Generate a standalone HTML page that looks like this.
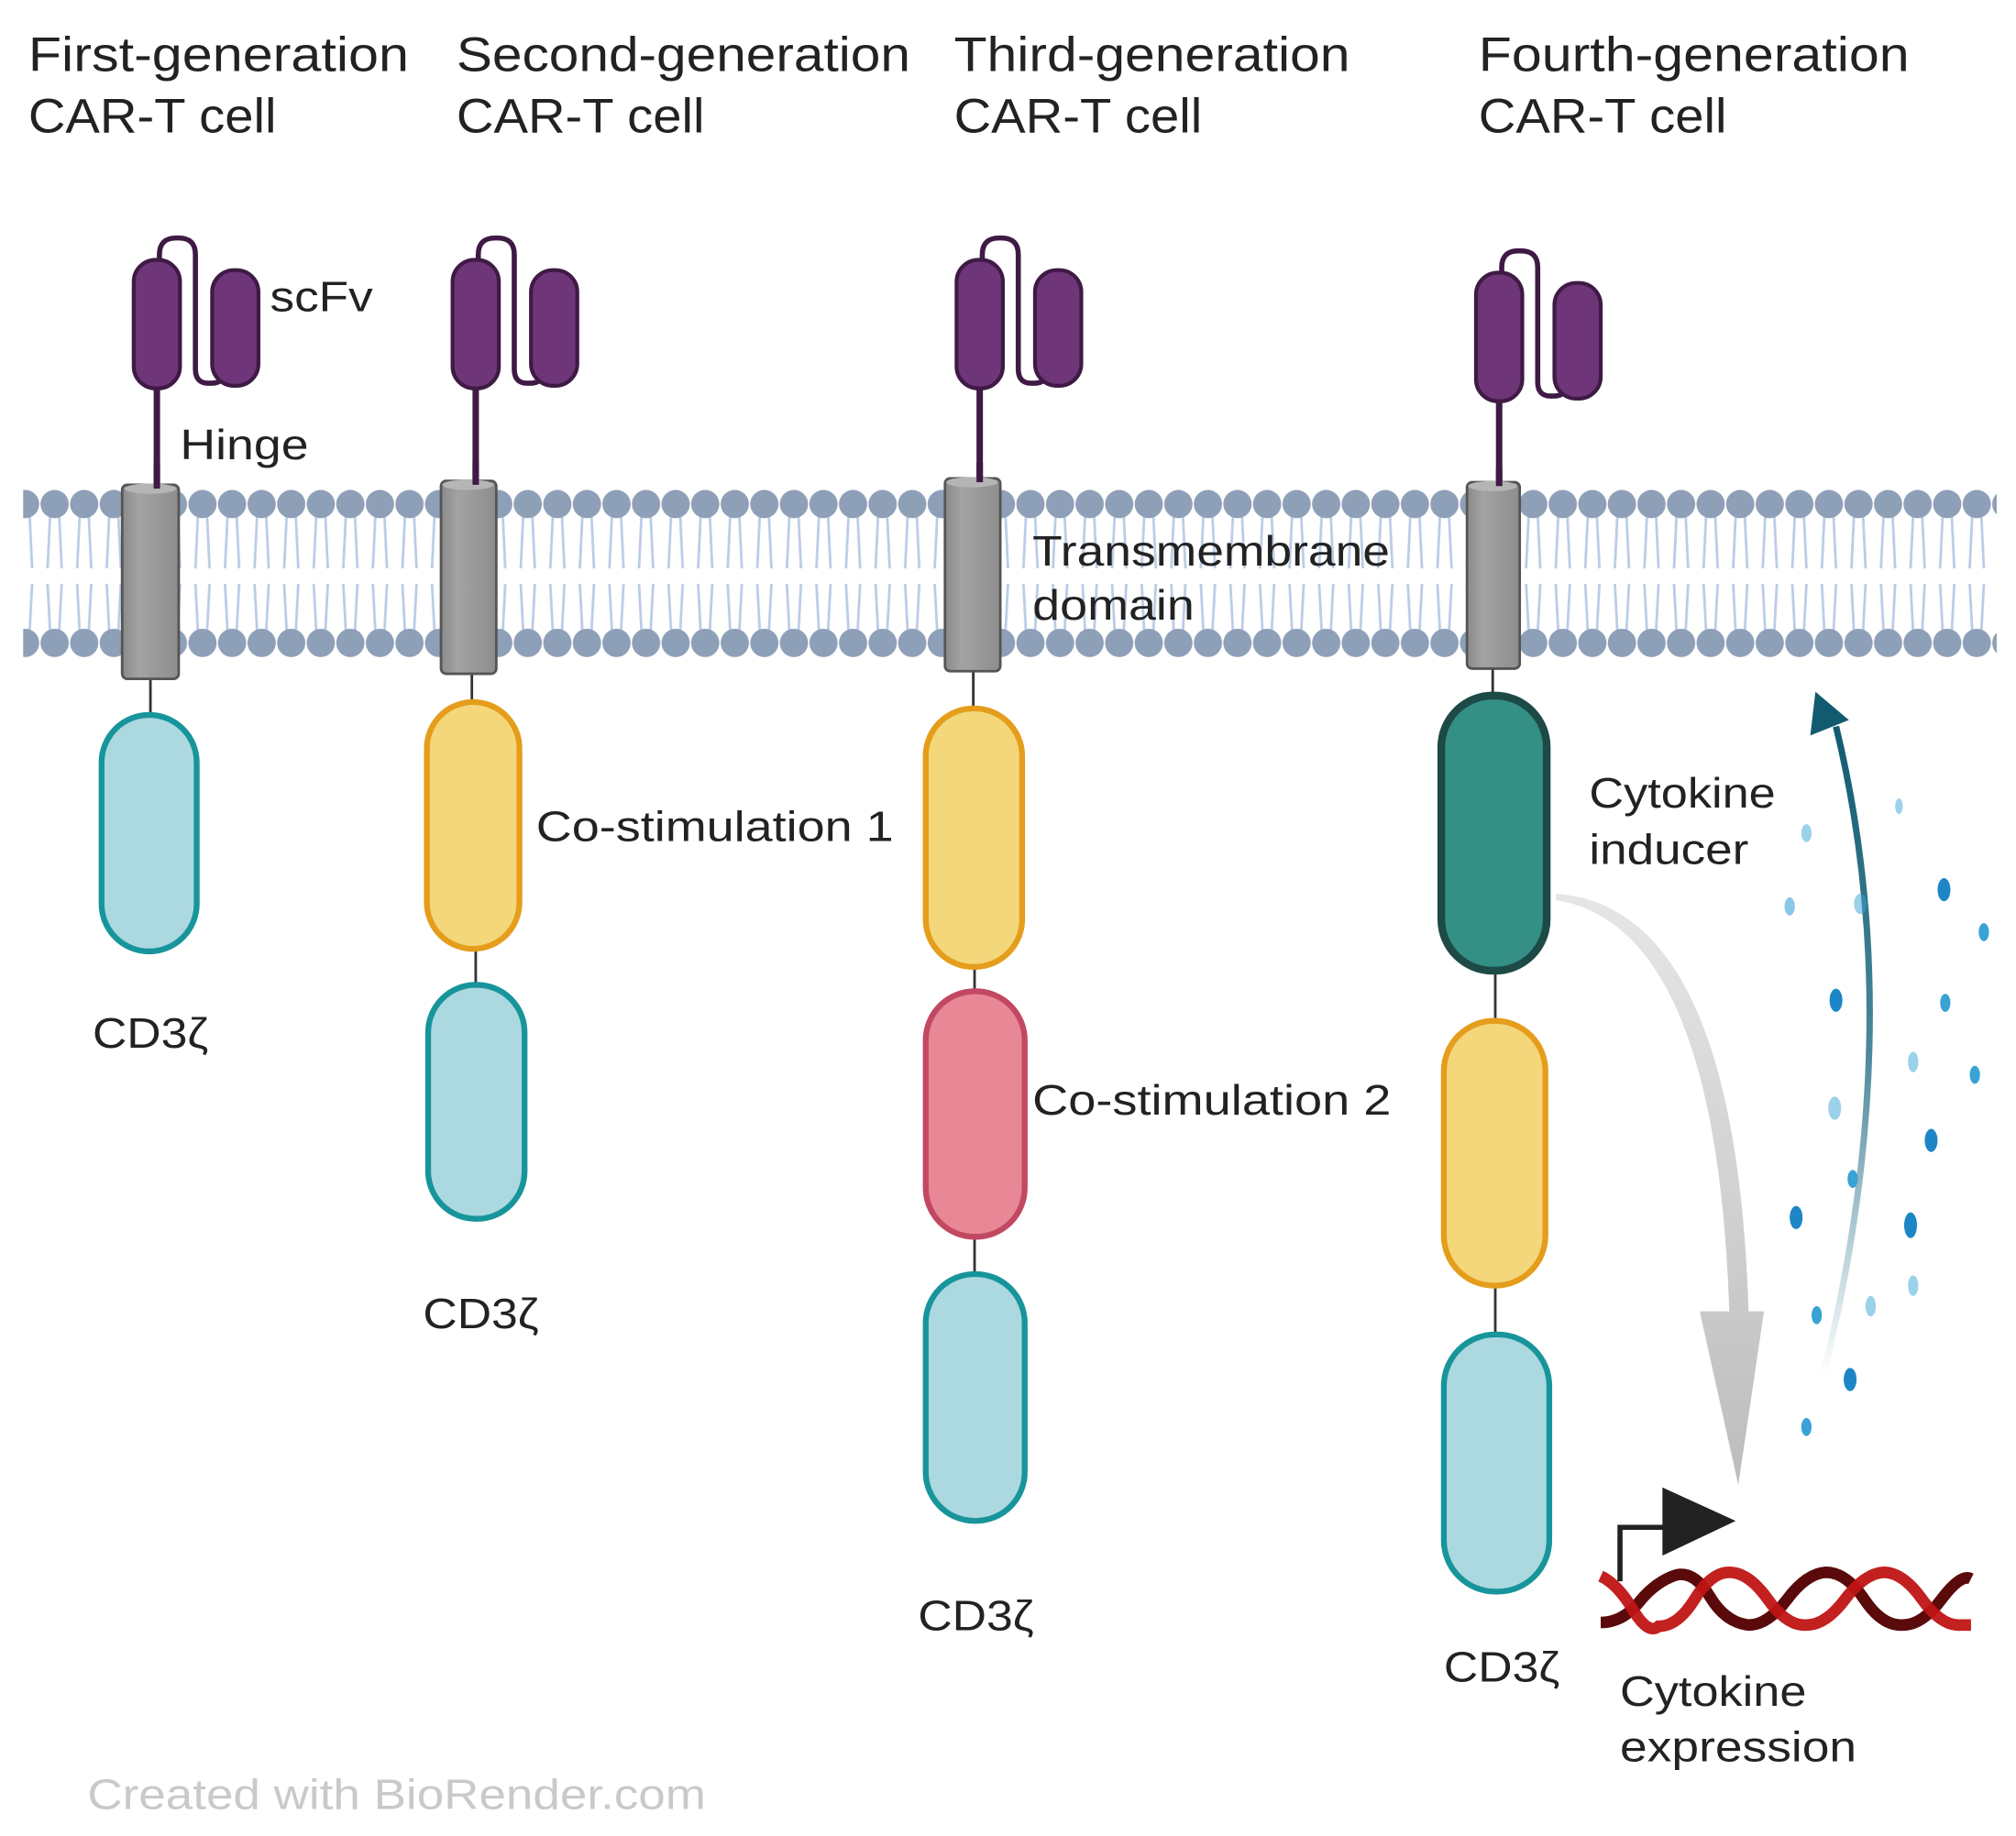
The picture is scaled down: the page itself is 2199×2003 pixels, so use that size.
<!DOCTYPE html>
<html><head><meta charset="utf-8"><style>
html,body{margin:0;padding:0;background:#fff;}
svg{display:block;}
text{font-family:"Liberation Sans",sans-serif;fill:#222;}
</style></head><body>
<svg width="2199" height="2003" viewBox="0 0 1568 1428" xmlns="http://www.w3.org/2000/svg">
<defs>
<pattern id="mem" x="8" y="380" width="23" height="140" patternUnits="userSpaceOnUse">
<g stroke="#bccce6" stroke-width="2" fill="none">
<path d="M8 20 L6 62 M15 20 L17 62"/>
<path d="M6 74 L8 112 M17 74 L15 112"/>
</g>
<circle cx="11.5" cy="12" r="11" fill="#8e9fb8"/>
<circle cx="11.5" cy="120" r="11" fill="#8e9fb8"/>
</pattern>
<linearGradient id="gcyl" x1="0" x2="1" y1="0" y2="0">
<stop offset="0" stop-color="#8a8a8a"/><stop offset="0.3" stop-color="#a3a3a3"/><stop offset="1" stop-color="#8d8d8d"/>
</linearGradient>
<linearGradient id="gray" x1="0" y1="0" x2="0" y2="1">
<stop offset="0" stop-color="#e6e6e6"/><stop offset="1" stop-color="#bdbdbd"/>
</linearGradient>
<linearGradient id="teal" x1="0" y1="1" x2="0" y2="0">
<stop offset="0" stop-color="#1d6a80" stop-opacity="0"/><stop offset="0.5" stop-color="#1d6a80" stop-opacity="0.8"/><stop offset="1" stop-color="#125a70"/>
</linearGradient>
<g id="scfv">
<path d="M0 0 L0 -90" stroke="#3f1a45" stroke-width="5" fill="none"/>
<path d="M2 -175 L2 -182 Q2 -195 15 -195 L17 -195 Q30 -195 30 -182 L30 -93 Q30 -82 40 -82 L42 -82 Q52 -82 52 -90" stroke="#3f1a45" stroke-width="4" fill="none"/>
<rect x="-18" y="-178" width="36" height="100" rx="17" fill="#6e3678" stroke="#3f1a45" stroke-width="3"/>
<rect x="43" y="-170" width="36" height="90" rx="17" fill="#6e3678" stroke="#3f1a45" stroke-width="3"/>
</g>
</defs>
<rect width="1568" height="1428" fill="#fff"/>

<!-- titles -->
<g font-size="38">
<text x="22" y="55" textLength="296" lengthAdjust="spacingAndGlyphs">First-generation</text><text x="22" y="103" textLength="193" lengthAdjust="spacingAndGlyphs">CAR-T cell</text>
<text x="355" y="55" textLength="353" lengthAdjust="spacingAndGlyphs">Second-generation</text><text x="355" y="103" textLength="193" lengthAdjust="spacingAndGlyphs">CAR-T cell</text>
<text x="742" y="55" textLength="308" lengthAdjust="spacingAndGlyphs">Third-generation</text><text x="742" y="103" textLength="193" lengthAdjust="spacingAndGlyphs">CAR-T cell</text>
<text x="1150" y="55" textLength="335" lengthAdjust="spacingAndGlyphs">Fourth-generation</text><text x="1150" y="103" textLength="193" lengthAdjust="spacingAndGlyphs">CAR-T cell</text>
</g>

<!-- membrane -->
<rect x="18" y="380" width="1535" height="134" fill="url(#mem)"/>

<!-- scFv -->
<use href="#scfv" transform="translate(122,380)"/>
<use href="#scfv" transform="translate(370,380)"/>
<use href="#scfv" transform="translate(762,380)"/>
<use href="#scfv" transform="translate(1166,390)"/>

<!-- connectors -->
<g stroke="#333" stroke-width="2">
<line x1="117" y1="528" x2="117" y2="556"/>
<line x1="367" y1="522" x2="367" y2="546"/><line x1="370" y1="738" x2="370" y2="766"/>
<line x1="757" y1="520" x2="757" y2="551"/><line x1="758" y1="752" x2="758" y2="771"/><line x1="758" y1="962" x2="758" y2="991"/>
<line x1="1161" y1="518" x2="1161" y2="541"/><line x1="1163" y1="755" x2="1163" y2="794"/><line x1="1163" y1="1000" x2="1163" y2="1038"/>
</g>

<!-- transmembrane cylinders -->
<g stroke="#555" stroke-width="2">
<rect x="95" y="377" width="44" height="151" rx="4" fill="url(#gcyl)"/>
<rect x="343" y="374" width="43" height="150" rx="4" fill="url(#gcyl)"/>
<rect x="735" y="372" width="43" height="150" rx="4" fill="url(#gcyl)"/>
<rect x="1141" y="375" width="41" height="145" rx="4" fill="url(#gcyl)"/>
</g>
<g fill="#b5b5b5"><ellipse cx="117" cy="380" rx="20" ry="4"/><ellipse cx="364" cy="377" rx="20" ry="4"/><ellipse cx="756" cy="375" rx="20" ry="4"/><ellipse cx="1161" cy="378" rx="19" ry="4"/></g>
<g stroke="#3f1a45" stroke-width="5"><line x1="122" y1="360" x2="122" y2="380"/><line x1="370" y1="360" x2="370" y2="377"/><line x1="762" y1="360" x2="762" y2="375"/><line x1="1166" y1="365" x2="1166" y2="378"/></g>

<!-- domains -->
<g stroke-width="4.5">
<rect x="79" y="556" width="74" height="184" rx="37" fill="#acd8e0" stroke="#17959b"/>
<rect x="332" y="546" width="72" height="192" rx="36" fill="#f3d77a" stroke="#e59d1c"/>
<rect x="333" y="766" width="75" height="182" rx="37" fill="#acd8e0" stroke="#17959b"/>
<rect x="720" y="551" width="75" height="201" rx="37" fill="#f3d77a" stroke="#e59d1c"/>
<rect x="720" y="771" width="77" height="191" rx="38" fill="#e88795" stroke="#c24862"/>
<rect x="720" y="991" width="77" height="192" rx="38" fill="#acd8e0" stroke="#17959b"/>
<rect x="1121" y="541" width="82" height="214" rx="40" fill="#348f85" stroke="#1d4a46" stroke-width="6"/>
<rect x="1123" y="794" width="79" height="206" rx="39" fill="#f3d77a" stroke="#e59d1c"/>
<rect x="1123" y="1038" width="82" height="200" rx="40" fill="#acd8e0" stroke="#17959b"/>
</g>

<!-- labels -->
<g font-size="33">
<text x="210" y="242" textLength="80" lengthAdjust="spacingAndGlyphs">scFv</text>
<text x="140" y="357" textLength="100" lengthAdjust="spacingAndGlyphs">Hinge</text>
<text x="72" y="815" textLength="90" lengthAdjust="spacingAndGlyphs">CD3ζ</text>
<text x="417" y="654" textLength="278" lengthAdjust="spacingAndGlyphs">Co-stimulation 1</text>
<text x="329" y="1033" textLength="90" lengthAdjust="spacingAndGlyphs">CD3ζ</text>
<text x="803" y="440" textLength="278" lengthAdjust="spacingAndGlyphs">Transmembrane</text><text x="803" y="482" textLength="126" lengthAdjust="spacingAndGlyphs">domain</text>
<text x="803" y="867" textLength="279" lengthAdjust="spacingAndGlyphs">Co-stimulation 2</text>
<text x="714" y="1268" textLength="90" lengthAdjust="spacingAndGlyphs">CD3ζ</text>
<text x="1236" y="628" textLength="145" lengthAdjust="spacingAndGlyphs">Cytokine</text><text x="1236" y="672" textLength="124" lengthAdjust="spacingAndGlyphs">inducer</text>
<text x="1123" y="1308" textLength="90" lengthAdjust="spacingAndGlyphs">CD3ζ</text>
<text x="1260" y="1327" textLength="145" lengthAdjust="spacingAndGlyphs">Cytokine</text><text x="1260" y="1370" textLength="184" lengthAdjust="spacingAndGlyphs">expression</text>
</g>
<text x="68" y="1407" font-size="33" textLength="481" lengthAdjust="spacingAndGlyphs" style="fill:#c9c9c9">Created with BioRender.com</text>

<!-- gray arrow -->
<path d="M1210 700 Q1335 720 1345 1020 L1322 1020 L1352 1155 L1372 1020 L1360 1020 Q1350 705 1210 695 Z" fill="url(#gray)"/>
<!-- teal arrow -->
<path d="M1418 1070 Q1485 800 1428 565" stroke="url(#teal)" stroke-width="5" fill="none"/>
<path d="M1412 538 L1408 572 L1438 560 Z" fill="#125a70"/>

<!-- dots -->
<g fill="#3aa3d6">
<ellipse cx="1405" cy="648" rx="4" ry="7" opacity=".5"/><ellipse cx="1477" cy="627" rx="3" ry="6" opacity=".5"/>
<ellipse cx="1392" cy="705" rx="4" ry="7" opacity=".6"/><ellipse cx="1447" cy="703" rx="5" ry="8" opacity=".5"/>
<ellipse cx="1512" cy="692" rx="5" ry="9" fill="#1c86c6"/><ellipse cx="1543" cy="725" rx="4" ry="7"/>
<ellipse cx="1428" cy="778" rx="5" ry="9" fill="#1c86c6"/><ellipse cx="1513" cy="780" rx="4" ry="7"/>
<ellipse cx="1488" cy="826" rx="4" ry="8" opacity=".5"/><ellipse cx="1536" cy="836" rx="4" ry="7"/>
<ellipse cx="1427" cy="862" rx="5" ry="9" opacity=".5"/><ellipse cx="1502" cy="887" rx="5" ry="9" fill="#1c86c6"/>
<ellipse cx="1441" cy="917" rx="4" ry="7"/><ellipse cx="1397" cy="947" rx="5" ry="9" fill="#1c86c6"/>
<ellipse cx="1486" cy="953" rx="5" ry="10" fill="#1c86c6"/><ellipse cx="1455" cy="1016" rx="4" ry="8" opacity=".5"/>
<ellipse cx="1413" cy="1023" rx="4" ry="7"/><ellipse cx="1488" cy="1000" rx="4" ry="8" opacity=".5"/>
<ellipse cx="1439" cy="1073" rx="5" ry="9" fill="#1c86c6"/><ellipse cx="1405" cy="1110" rx="4" ry="7"/>
</g>

<!-- DNA -->
<path d="M1245 1262 Q1262 1262 1275 1246 T1304 1225 Q1318 1222 1330 1242 T1360 1264 Q1375 1264 1390 1244 T1420 1223 Q1436 1223 1450 1244 T1480 1264 Q1495 1264 1510 1244 T1533 1228" stroke="#5a0a0a" stroke-width="9" fill="none"/>
<path d="M1245 1226 Q1258 1232 1270 1252 T1290 1265 Q1305 1265 1318 1244 T1345 1223 Q1360 1223 1375 1244 T1405 1264 Q1420 1264 1435 1244 T1465 1223 Q1480 1223 1495 1244 T1525 1264 L1533 1264" stroke="#c01414" stroke-width="9" fill="none" opacity="0.95"/>
<path d="M1260 1230 L1260 1188 L1297 1188" stroke="#222" stroke-width="4" fill="none"/>
<path d="M1293 1157 L1350 1183 L1293 1210 Z" fill="#222"/>
</svg>
</body></html>
